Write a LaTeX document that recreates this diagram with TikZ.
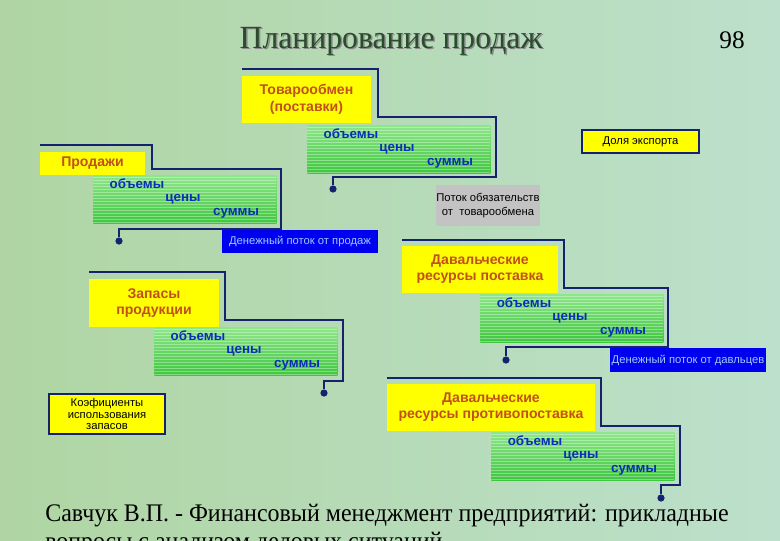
\documentclass[tikz,border=0pt]{standalone}
\usepackage{fontspec}
\setmainfont{Liberation Serif}
\setsansfont{Liberation Sans}
\usetikzlibrary{calc}
\definecolor{bgleft}{HTML}{B0D5A3}
\definecolor{bgmid}{HTML}{D3DDB9}
\definecolor{bgright}{HTML}{BCE0CB}
\definecolor{boxyellow}{HTML}{FFFF00}
\definecolor{headtext}{HTML}{C2501C}
\definecolor{valblue}{HTML}{0B2DB8}
\definecolor{linknavy}{HTML}{17226E}
\definecolor{flowblue}{HTML}{0000F0}
\definecolor{flowtext}{HTML}{9CCBFF}
\definecolor{debtgrey}{HTML}{C3C3C3}
\definecolor{gtop}{HTML}{8EE68A}
\definecolor{gbot}{HTML}{3EC63E}
\definecolor{titlegreen}{HTML}{2B4A2E}

\tikzset{
  wh/.style 2 args={minimum width=#1*0.025cm, minimum height=#2*0.025cm},
  hbox/.style={fill=boxyellow, text=headtext, align=center, inner sep=0pt,
    font=\sffamily\bfseries\fontsize{10}{11.5}\selectfont},
  nbox/.style={fill=boxyellow, draw=linknavy, line width=0.8pt, align=center, inner sep=0pt,
    font=\sffamily\fontsize{8}{9.5}\selectfont},
  flowbox/.style={fill=flowblue, text=flowtext, inner sep=0pt,
    font=\sffamily\fontsize{8}{10}\selectfont},
  valtxt/.style={text=valblue, inner sep=0pt, font=\sffamily\bfseries\fontsize{9.5}{11}\selectfont},
  bracket/.style={linknavy, line width=1.1pt},
  enddot/.style={circle, fill=linknavy, inner sep=0pt, minimum size=0.18cm},
  srctxt/.style={font=\fontsize{18}{22}\selectfont, anchor=base west, inner sep=0pt},
  pics/vals/.style={code={
    \node[top color=gtop, bottom color=gbot, anchor=north west, wh={183}{48}, inner sep=0pt] (-box) at (0,0) {};
    \foreach \k in {2,5,...,47}
      \draw[white, opacity=0.35, line width=0.4pt] (0,\k) -- (183,\k);
    \node[valtxt] (-vol) at (44,9) {объемы};
    \node[valtxt] (-price) at (90,24) {цены};
    \node[valtxt] (-sum) at (143,38) {суммы};
  }}
}

\begin{document}
\begin{tikzpicture}[x=0.025cm, y=-0.025cm]
  \useasboundingbox (0,0) rectangle (780,540);
  \clip (0,0) rectangle (780,540);
  % background
  \shade[left color=bgleft, middle color=bgmid, right color=bgright] (0,0) rectangle (780,540);

  % title
  \node[text=black!45, font=\fontsize{23}{28}\selectfont, anchor=base] at (392.5,49.5) {\scalebox{0.98}[1]{Планирование продаж}};
  \node[text=titlegreen, font=\fontsize{23}{28}\selectfont, anchor=base] (title) at (391,48) {\scalebox{0.98}[1]{Планирование продаж}};
  \node[font=\fontsize{18}{22}\selectfont, anchor=base] (pageno) at (732,48) {98};

  % brackets
  \coordinate (s1) at (242,69);
  \coordinate (s2) at (40,145);
  \coordinate (s3) at (89,272);
  \coordinate (s4) at (402,240);
  \coordinate (s5) at (387,378);
  \node[enddot] (d1) at (333,189) {};
  \node[enddot] (d2) at (119,241) {};
  \node[enddot] (d3) at (324,393) {};
  \node[enddot] (d4) at (506,360) {};
  \node[enddot] (d5) at (661,498) {};
  \draw[bracket] (s1) -- (378,69) -- (378,117) -- (496,117) -- (496,177) -- (333,177) -- (d1);
  \draw[bracket] (s2) -- (152,145) -- (152,169) -- (281,169) -- (281,229) -- (119,229) -- (d2);
  \draw[bracket] (s3) -- (225,272) -- (225,320) -- (343,320) -- (343,381) -- (324,381) -- (d3);
  \draw[bracket] (s4) -- (564,240) -- (564,288) -- (668,288) -- (668,347) -- (506,347) -- (d4);
  \draw[bracket] (s5) -- (601,378) -- (601,426) -- (680,426) -- (680,485) -- (661,485) -- (d5);

  % headings
  \node[hbox, wh={129}{47}, font=\sffamily\bfseries\fontsize{10}{12}\selectfont] (tov) at (306.5,99.5) {Товарообмен\\(поставки)};
  \node[hbox, wh={105}{23}] (sales) at (92.5,163.5) {Продажи};
  \node[hbox, wh={130}{48}, font=\sffamily\bfseries\fontsize{10}{11.5}\selectfont] (stock) at (154,303) {Запасы\\продукции};
  \node[hbox, wh={156}{47}] (tollin) at (480,269.5) {Давальческие\\ресурсы поставка};
  \node[hbox, wh={208}{47}] (tollout) at (491,407.5) {Давальческие\\ресурсы противопоставка};

  % values
  \pic (v1) at (307,125) {vals};
  \pic (v2) at (93,175) {vals};
  \pic (v3) at (154,327) {vals};
  \pic (v4) at (480,294) {vals};
  \pic (v5) at (491,432) {vals};

  % notes
  \node[nbox, wh={117}{23}] (export) at (640.5,141.5) {Доля экспорта};
  \node[nbox, wh={116}{40}, font=\sffamily\fontsize{8}{8.2}\selectfont] (ratio) at (107,414) {Коэфициенты\\использования\\запасов};
  \node[fill=debtgrey, wh={104}{41}, align=center, inner sep=0pt,
    font=\sffamily\fontsize{8}{10}\selectfont] (debt) at (488,205.5) {Поток обязательств\\от\ \ товарообмена};
  \node[flowbox, wh={156}{23}] (cash1) at (300,241.5) {Денежный поток от продаж};
  \node[flowbox, wh={156}{24}] (cash2) at (688,360) {Денежный поток от давльцев};

  % source
  \node[srctxt] (src1) at (45,521)
    {\scalebox{0.946}[1]{Савчук В.П. - Финансовый менеджмент предприятий: прикладные}};
  \node[srctxt] (src2) at (45,549)
    {\scalebox{0.946}[1]{вопросы с анализом деловых ситуаций}};
\end{tikzpicture}
\end{document}
